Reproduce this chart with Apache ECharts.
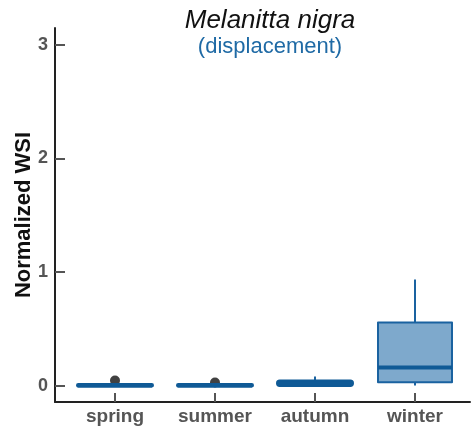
<!DOCTYPE html>
<html>
<head>
<meta charset="utf-8">
<script src="https://cdn.jsdelivr.net/npm/echarts@6/dist/echarts.min.js"></script>
<style>
  html, body { margin: 0; padding: 0; background: #fff; }
  #chart { width: 473px; height: 428px; }
</style>
</head>
<body>
<div id="chart"></div>
<script>
// 季节分类
var seasons = ['spring', 'summer', 'autumn', 'winter'];
var seasonPos = [1, 2, 3, 4];
// [min, Q1, median, Q3, max]
var boxStats = [
  [0, 0, 0, 0.004, 0.008],
  [0, 0, 0, 0.004, 0.008],
  [0, 0.005, 0.02, 0.035, 0.08],
  [0, 0.03, 0.16, 0.555, 0.935]
];
// 离群点 [位置, 值]
var outliers = [
  [1, 0.045],
  [2, 0.027]
];
var yTicks = [0, 1, 2, 3];

var chart = echarts.init(document.getElementById('chart'));

var boxColor = '#7ea9cc';
var lineColor = '#1a62a0';
var darkColor = '#0f5a96';

function renderBox(params, api) {
  var x = api.value(0);
  var lo = api.coord([x, api.value(1)]);
  var q1 = api.coord([x, api.value(2)]);
  var med = api.coord([x, api.value(3)]);
  var q3 = api.coord([x, api.value(4)]);
  var hi = api.coord([x, api.value(5)]);
  var half = 37;
  var thin = q1[1] - q3[1] < 6;
  var children = [
    {
      type: 'line',
      shape: { x1: hi[0], y1: hi[1], x2: q3[0], y2: q3[1] },
      style: { stroke: lineColor, lineWidth: 2 }
    },
    {
      type: 'line',
      shape: { x1: lo[0], y1: lo[1], x2: q1[0], y2: q1[1] },
      style: { stroke: lineColor, lineWidth: 2 }
    },
    {
      type: 'rect',
      shape: { x: q3[0] - half, y: q3[1], width: half * 2, height: Math.max(q1[1] - q3[1], 0), r: thin ? 2 : 0 },
      style: { fill: thin ? darkColor : boxColor, stroke: thin ? darkColor : lineColor, lineWidth: thin ? 4 : 2, lineJoin: 'round' }
    },
    {
      type: 'line',
      shape: { x1: med[0] - half, y1: med[1], x2: med[0] + half, y2: med[1] },
      style: { stroke: darkColor, lineWidth: 4 }
    }
  ];
  return { type: 'group', children: children };
}

var option = {
  animation: false,
  title: {
    text: 'Melanitta nigra',
    subtext: '(displacement)',
    left: 265,
    textAlign: 'center',
    top: 3,
    itemGap: 2,
    textStyle: { fontFamily: 'Liberation Sans', fontStyle: 'italic', fontWeight: 'normal', fontSize: 26, color: '#111' },
    subtextStyle: { fontFamily: 'Liberation Sans', fontSize: 22, color: '#1f6aa5' }
  },
  grid: { left: 55, right: 3, top: 28, bottom: 26, containLabel: false, outerBoundsMode: 'none' },
  xAxis: {
    type: 'value',
    min: 0.4,
    max: 4.55,
    splitLine: { show: false },
    axisLine: { show: true, onZero: false, lineStyle: { color: '#222', width: 2 } },
    axisTick: { show: true, inside: true, length: 9, customValues: seasonPos, lineStyle: { color: '#555', width: 2 } },
    axisLabel: {
      customValues: seasonPos,
      margin: 5,
      fontFamily: 'Liberation Sans', fontWeight: 'bold', fontSize: 19, color: '#555',
      formatter: function (v) { return seasons[Math.round(v) - 1]; }
    }
  },
  yAxis: {
    type: 'value',
    min: -0.145,
    max: 3.15,
    name: 'Normalized WSI',
    nameLocation: 'middle',
    nameGap: 20,
    nameMoveOverlap: false,
    nameTextStyle: { fontFamily: 'Liberation Sans', fontWeight: 'bold', fontSize: 22, color: '#111' },
    splitLine: { show: false },
    axisLine: { show: true, onZero: false, lineStyle: { color: '#222', width: 2 } },
    axisTick: { show: true, inside: true, length: 10, customValues: yTicks, lineStyle: { color: '#555', width: 2 } },
    axisLabel: {
      customValues: yTicks,
      margin: 7,
      fontFamily: 'Liberation Sans', fontWeight: 'bold', fontSize: 18, color: '#555'
    }
  },
  series: [
    {
      type: 'scatter',
      symbolSize: 10,
      itemStyle: { color: '#111' },
      data: outliers,
      z: 1
    },
    {
      type: 'custom',
      renderItem: renderBox,
      data: boxStats.map(function (s, i) { return [seasonPos[i]].concat(s); }),
      z: 2
    }
  ]
};
chart.setOption(option);
</script>
</body>
</html>
